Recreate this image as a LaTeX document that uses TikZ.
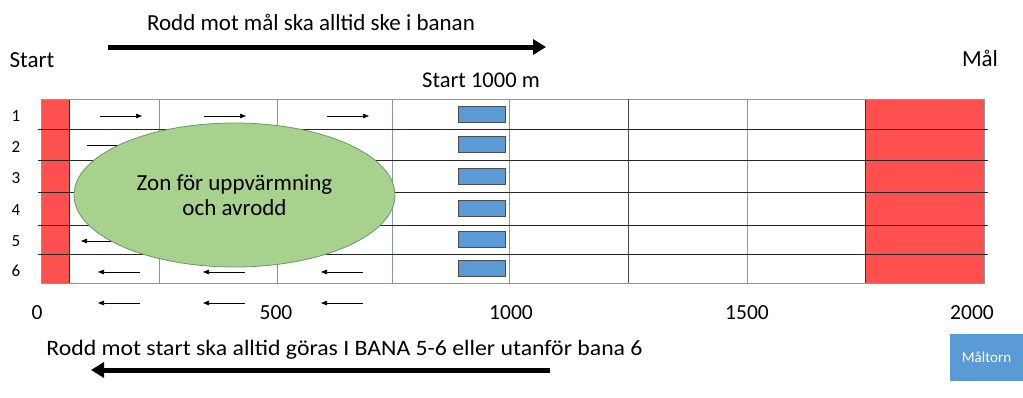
\documentclass[tikz,border=0pt]{standalone}
\usepackage{fontspec}
\setmainfont{Carlito}
\usetikzlibrary{arrows.meta,shapes.geometric}

\definecolor{finishred}{HTML}{FF5050}
\definecolor{towerblue}{HTML}{5B9BD5}
\definecolor{zonegreen}{HTML}{A9D18E}
\definecolor{gridgray}{HTML}{8497B0}

\begin{document}
\begin{tikzpicture}[x=1pt,y=-1pt]
        % styles
        \tikzstyle{textlabel}=[font=\fontsize{23}{26}\selectfont, inner sep=0pt]
        \tikzstyle{distlabel}=[font=\fontsize{21.5}{24}\selectfont, inner sep=0pt]
        \tikzstyle{rowlabel}=[font=\fontsize{17}{20}\selectfont, inner sep=0pt]
        \tikzstyle{startbox}=[draw=black!70, fill=towerblue, minimum width=47pt, minimum height=16pt, inner sep=0pt]
        \tikzstyle{bigarrow}=[line width=5pt, -{Triangle[length=13pt,width=15pt]}]
        \tikzstyle{lanearrow}=[line width=0.7pt, -{Triangle[length=6pt,width=4.5pt]}]
        \tikzstyle{lane}=[black!85, line width=0.9pt]

        \useasboundingbox (0,0) rectangle (1023,397);

        % red zones
        \draw[black!80, fill=finishred] (41,99) rectangle (69,283);
        \draw[black!80, fill=finishred] (865,99) rectangle (984,283);

        % grid
        \draw[gridgray, line width=0.8pt] (41,99) rectangle (984,283);
        \foreach \x in {159,277,392,509,747}
            \draw[gridgray, line width=0.8pt] (\x,99) -- (\x,283);
        \draw[black!70, line width=0.8pt] (628,99) -- (628,283);
        \foreach \y in {129,160,192,225,254}
            \draw[lane] (38,\y) -- (988,\y);

        % lanes
        \foreach \i/\y in {1/114,2/144.5,3/176,4/208.5,5/239.5,6/268.5} {
            \node[rowlabel] (row\i) at (16,\y+2) {\i};
            \node[startbox] (box\i) at (482,\y) {};
        }

        % lane arrows
        \foreach \x in {100,204,327}
            \draw[lanearrow] (\x,116) -- ++(42,0);
        \draw[lanearrow] (87,145) -- ++(42,0);
        \draw[lanearrow] (123,241) -- ++(-42,0);
        \foreach \x in {140,245,363} {
            \draw[lanearrow] (\x,272) -- ++(-42,0);
            \draw[lanearrow] (\x,303) -- ++(-42,0);
        }

        % warm-up zone
        \node[ellipse, draw=gray!80!green, line width=0.8pt, fill=zonegreen, minimum width=321pt, minimum height=144pt, align=center, font=\fontsize{23}{25}\selectfont] (zone) at (234.5,195) {Zon för uppvärmning\\och avrodd};

        % texts
        \node[textlabel] (start) at (32,60) {Start};
        \node[textlabel] (goal) at (980,58) {Mål};
        \node[textlabel, font=\fontsize{22.5}{26}\selectfont] (start1000) at (481,80) {Start 1000 m};
        \node[textlabel] (uptext) at (311,22) {Rodd mot mål ska alltid ske i banan};
        \node[textlabel, font=\fontsize{22}{26}\selectfont\addfontfeature{FakeStretch=1.08}] (downtext) at (344.5,350) {Rodd mot start ska alltid göras I BANA 5-6 eller utanför bana 6};

        % distances
        \foreach \m/\x in {0/37,500/276,1000/511,1500/747,2000/972}
            \node[distlabel] (m\m) at (\x,313) {\m};

        % direction arrows
        \coordinate (upA) at (108,47);
        \coordinate (upB) at (546,47);
        \coordinate (downA) at (550,370);
        \coordinate (downB) at (91,370);
        \draw[bigarrow] (upA) -- (upB);
        \draw[bigarrow] (downA) -- (downB);

        % tower
        \node[fill=towerblue, minimum width=73pt, minimum height=47pt, text=white, font=\fontsize{15}{17}\selectfont] (tower) at (986.5,357) {Måltorn};
    \end{tikzpicture}
\end{document}
